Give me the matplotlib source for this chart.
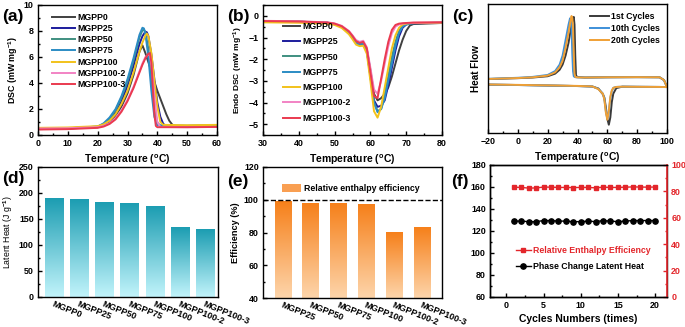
import matplotlib
matplotlib.use('Agg')
import matplotlib.pyplot as plt
import numpy as np
from matplotlib.ticker import AutoMinorLocator, MultipleLocator
from matplotlib.colors import LinearSegmentedColormap
from matplotlib.patches import Patch

plt.rcParams.update({
    'font.family': 'Liberation Sans',
    'font.weight': 'bold',
    'font.size': 7,
    'axes.labelweight': 'bold',
    'axes.linewidth': 1.0,
    'mathtext.fontset': 'custom',
    'mathtext.rm': 'Liberation Sans:bold',
    'mathtext.bf': 'Liberation Sans:bold',
    'mathtext.it': 'Liberation Sans:bold',
})

names = ['MGPP0', 'MGPP25', 'MGPP50', 'MGPP75', 'MGPP100', 'MGPP100-2', 'MGPP100-3']
colors = ['#404040', '#1c1c9c', '#3f8f80', '#2b8cc4', '#f2c21b', '#f283c4', '#ea3a4f']

# (a) crystallization DSC curves, (temperature, value)
a_T = {
    'MGPP0': [0, 10, 20, 22, 24, 26, 28, 30, 32, 33, 34, 35, 36, 37, 38, 39, 40, 41, 42, 43, 44, 45, 46, 50, 60],
    'MGPP25': [0, 10, 20, 22, 24, 26, 28, 30, 32, 33, 34, 35, 36, 36.5, 37, 38, 39, 40, 41, 42, 43, 50, 60],
    'MGPP50': [0, 10, 20, 22, 24, 26, 28, 30, 32, 33, 34, 35, 35.5, 36, 37, 38, 39, 40, 41, 50, 60],
    'MGPP75': [0, 10, 20, 22, 24, 26, 28, 30, 32, 33, 34, 35, 35.5, 36, 37, 38, 39, 40, 50, 60],
    'MGPP100': [0, 10, 20, 22, 24, 26, 28, 30, 32, 33, 34, 35, 36, 36.5, 37, 38, 39, 40, 41, 42, 50, 60],
    'MGPP100-2': [0, 10, 20, 22, 24, 26, 28, 30, 32, 33, 34, 35, 36, 37, 37.5, 38, 39, 40, 41, 50, 60],
    'MGPP100-3': [0, 10, 20, 22, 24, 26, 28, 30, 32, 33, 34, 35, 36, 37, 37.5, 38, 38.5, 39, 39.5, 40, 50, 60],
}
a_Y = {
    'MGPP0': [0.45, 0.5, 0.6, 0.75, 1.0, 1.5, 2.2, 3.2, 4.6, 5.5, 6.4, 6.9, 6.3, 5.6, 4.9, 4.1, 3.4, 2.8, 2.2, 1.6, 1.1, 0.8, 0.7, 0.7, 0.72],
    'MGPP25': [0.5, 0.52, 0.62, 0.78, 1.1, 1.7, 2.6, 3.8, 5.3, 6.2, 7.0, 7.6, 7.95, 7.9, 7.6, 6.2, 4.3, 2.5, 1.4, 0.85, 0.7, 0.7, 0.72],
    'MGPP50': [0.5, 0.52, 0.65, 0.85, 1.25, 1.9, 2.9, 4.1, 5.7, 6.6, 7.5, 8.05, 8.1, 7.9, 6.6, 4.2, 2.0, 0.95, 0.72, 0.7, 0.72],
    'MGPP75': [0.48, 0.5, 0.65, 0.9, 1.35, 2.0, 3.0, 4.3, 5.9, 6.8, 7.7, 8.25, 8.2, 7.8, 6.0, 3.4, 1.4, 0.75, 0.7, 0.72],
    'MGPP100': [0.55, 0.58, 0.68, 0.82, 1.1, 1.6, 2.4, 3.4, 4.8, 5.6, 6.4, 7.1, 7.65, 7.8, 7.6, 6.3, 4.2, 2.2, 1.0, 0.78, 0.75, 0.78],
    'MGPP100-2': [0.5, 0.52, 0.6, 0.7, 0.9, 1.3, 1.9, 2.7, 3.7, 4.3, 4.9, 5.5, 6.0, 6.2, 6.1, 5.4, 3.0, 1.0, 0.62, 0.6, 0.62],
    'MGPP100-3': [0.42, 0.45, 0.55, 0.65, 0.85, 1.2, 1.8, 2.6, 3.6, 4.2, 4.8, 5.4, 5.9, 6.25, 6.3, 5.6, 3.6, 1.6, 0.7, 0.6, 0.6, 0.62],
}

# (b) melting DSC curves
b_T = [30, 40, 48, 50, 52, 54, 55, 56, 57, 58, 59, 60, 61, 62, 63, 64, 65, 66, 67, 68, 69, 70, 71, 72, 80]
b_Y = {
    'MGPP0': [-0.25, -0.27, -0.32, -0.38, -0.5, -0.75, -0.95, -1.2, -1.3, -1.3, -1.55, -2.5, -3.6, -3.9, -3.8, -3.6, -3.3, -2.8, -2.2, -1.6, -1.1, -0.7, -0.45, -0.38, -0.33],
    'MGPP25': [-0.25, -0.27, -0.32, -0.38, -0.5, -0.78, -1.0, -1.25, -1.32, -1.3, -1.6, -2.7, -3.9, -4.2, -4.15, -3.9, -3.2, -2.4, -1.6, -0.95, -0.55, -0.4, -0.36, -0.34, -0.32],
    'MGPP50': [-0.25, -0.27, -0.32, -0.38, -0.5, -0.78, -1.0, -1.25, -1.32, -1.28, -1.6, -2.8, -4.0, -4.4, -4.3, -3.6, -2.8, -1.9, -1.2, -0.7, -0.45, -0.38, -0.35, -0.34, -0.32],
    'MGPP75': [-0.25, -0.27, -0.32, -0.38, -0.5, -0.78, -1.0, -1.25, -1.32, -1.28, -1.6, -2.8, -4.0, -4.45, -4.3, -3.8, -3.0, -2.2, -1.4, -0.8, -0.5, -0.4, -0.36, -0.34, -0.32],
    'MGPP100': [-0.3, -0.32, -0.36, -0.42, -0.56, -0.85, -1.08, -1.33, -1.4, -1.38, -1.75, -3.0, -4.4, -4.7, -4.2, -3.3, -2.4, -1.5, -0.9, -0.55, -0.4, -0.36, -0.34, -0.33, -0.32],
    'MGPP100-2': [-0.23, -0.25, -0.3, -0.35, -0.46, -0.7, -0.9, -1.12, -1.2, -1.15, -1.45, -2.4, -3.4, -3.6, -3.0, -2.2, -1.4, -0.8, -0.5, -0.4, -0.36, -0.34, -0.33, -0.32, -0.3],
    'MGPP100-3': [-0.24, -0.26, -0.31, -0.36, -0.48, -0.72, -0.93, -1.17, -1.25, -1.2, -1.5, -2.6, -3.7, -3.8, -2.9, -2.0, -1.2, -0.65, -0.42, -0.36, -0.34, -0.33, -0.32, -0.31, -0.3],
}

# (c) cycling heat flow loops (arbitrary units)
cycles = ['1st Cycles', '10th Cycles', '20th Cycles']
cyc_colors = ['#3a3a3a', '#3d8fd8', '#f0a035']
heat_T = [-20, 0, 20, 40, 50, 54, 56, 57, 58, 59, 60, 61, 62, 63, 64, 66, 70, 80, 95, 100]
heat_Y = [
    [37.5, 37.2, 36.8, 36.4, 36.0, 34.5, 31.5, 30.0, 27.5, 20, 11, 6.4, 12, 24, 30.5, 34.8, 35.9, 35.8, 35.7, 35.6],
    [37.5, 37.2, 36.8, 36.4, 36.1, 34.2, 31.8, 30.5, 26.5, 17, 10.8, 16, 27, 32.5, 35, 35.7, 35.9, 35.8, 35.7, 35.6],
    [37.6, 37.3, 36.9, 36.5, 36.1, 34.0, 31.5, 30.5, 26, 16, 10.3, 17, 28, 33, 35, 35.7, 35.9, 35.8, 35.7, 35.6],
]
cool_T = [100, 98, 95, 80, 60, 45, 40, 39, 38.5, 38, 37.5, 37, 36.5, 36, 35.5, 35, 34, 32, 30, 28, 25, 20, 10, 0, -20]
cool_Y = [
    [35.6, 41, 43.2, 43.3, 43.2, 43, 43.4, 44.5, 60, 84, 90, 89, 87, 84, 80, 77, 70, 60, 53, 49, 46, 44, 43, 42.5, 41.8],
    [35.6, 41, 43.2, 43.3, 43.2, 43, 43.1, 43.2, 43.3, 43.5, 44, 48, 62, 82, 88, 88.9, 84, 72, 60, 53, 48, 45, 43.5, 42.8, 42],
    [35.6, 41, 43.2, 43.3, 43.2, 43, 43.1, 43.3, 43.6, 46, 60, 82, 89, 90.7, 88, 85, 78, 66, 56, 51, 47, 44.5, 43.2, 42.6, 41.9],
]

# (d) latent heat
latent = [189, 187, 181, 179, 175, 133, 129]
# (e) relative enthalpy efficiency
eff_names = names[1:]
efficiency = [99, 98, 98, 97, 80, 83]
# (f) cycling stability
cyc_n = list(range(1, 21))
cyc_latent = [129, 129, 128.5, 128.5, 129.5, 129.5, 129, 129, 128.5, 128.5, 129, 128.5, 129.5, 129, 128.5, 129, 129.5, 129.5, 129.5, 129.5]
cyc_eff = [83.2, 83, 82.5, 82.6, 83.3, 83.2, 83, 83, 82.9, 83, 83, 82.7, 83.2, 83, 83, 83.2, 83.4, 83.3, 83.2, 83.3]

W, H = 685, 327
TICK = 6.4
fig = plt.figure(figsize=(6.85, 3.27), dpi=100)


def box(l, r, t, b):
    return [l / W, 1 - b / H, (r - l) / W, (b - t) / H]


def style(ax, xminor=2, yminor=2):
    ax.xaxis.set_minor_locator(AutoMinorLocator(xminor))
    ax.yaxis.set_minor_locator(AutoMinorLocator(yminor))
    ax.tick_params(which='both', direction='in', width=1.0, labelsize=TICK, pad=3)
    ax.tick_params(which='major', length=3)
    ax.tick_params(which='minor', length=1.5)


axa = fig.add_axes(box(38, 217, 5, 135))
axb = fig.add_axes(box(263, 442, 5, 135))
axc = fig.add_axes(box(488, 667, 4, 133))
axd = fig.add_axes(box(38, 218, 167, 297))
axe = fig.add_axes(box(263, 442, 167, 298))
axf = fig.add_axes(box(490, 667, 165, 297))

deg = r'Temperature ($^{\mathrm{o}}$C)'

# (a)
for n, c in zip(names, colors):
    axa.plot(a_T[n], a_Y[n], color=c, lw=1.4, label=n)
axa.set_xlim(0, 60)
axa.set_ylim(0, 10)
axa.xaxis.set_major_locator(MultipleLocator(10))
axa.yaxis.set_major_locator(MultipleLocator(2))
axa.set_xlabel(deg, fontsize=7.5, labelpad=3)
axa.set_ylabel(r'DSC (mW mg$^{-1}$)', fontsize=6.4, labelpad=3)
style(axa)
axa.legend(loc='upper left', bbox_to_anchor=(0.05, 0.98), frameon=False, fontsize=6.3,
           handlelength=2.6, handletextpad=0.3, labelspacing=0.25, borderaxespad=0.2)

# (b)
for n, c in zip(names, colors):
    axb.plot(b_T, b_Y[n], color=c, lw=1.4, label=n)
axb.set_xlim(30, 80)
axb.set_ylim(-5.5, 0.5)
axb.xaxis.set_major_locator(MultipleLocator(10))
axb.yaxis.set_major_locator(MultipleLocator(1))
axb.set_xlabel(deg, fontsize=7.5, labelpad=3)
axb.set_ylabel(r'Endo DSC (mW mg$^{-1}$)', fontsize=6.0, labelpad=3)
style(axb)
axb.legend(loc='upper left', bbox_to_anchor=(0.08, 0.91), frameon=False, fontsize=6.3,
           handlelength=2.0, handletextpad=0.3, labelspacing=0.72, borderaxespad=0.2)

# (c)
for lab, c, hy, cy in zip(cycles, cyc_colors, heat_Y, cool_Y):
    axc.plot(heat_T + cool_T + heat_T[:1], hy + cy + hy[:1], color=c, lw=1.4, label=lab)
axc.set_xlim(-20, 100)
axc.set_ylim(0, 100)
axc.xaxis.set_major_locator(MultipleLocator(20))
axc.set_yticks([])
axc.set_xlabel(deg, fontsize=7.5, labelpad=3)
axc.set_ylabel('Heat Flow', fontsize=7.2, labelpad=5)
style(axc)
axc.legend(loc='upper right', bbox_to_anchor=(0.99, 0.98), frameon=False, fontsize=6.3,
           handlelength=2.2, handletextpad=0.2, labelspacing=0.35, borderaxespad=0.2)


def gradient_bars(ax, x, vals, width, c_top, c_bottom, ymin):
    cmap = LinearSegmentedColormap.from_list('g', [c_bottom, c_top])
    grad = np.linspace(0, 1, 256).reshape(-1, 1)
    bars = ax.bar(x, vals, width=width, color='none', edgecolor='none')
    for b in bars:
        x0, w = b.get_x(), b.get_width()
        y0 = max(b.get_y(), ymin)
        ax.imshow(grad, extent=[x0, x0 + w, y0, b.get_y() + b.get_height()],
                  origin='lower', aspect='auto', cmap=cmap, zorder=2)
    return bars


# (d)
xd = np.arange(len(names))
gradient_bars(axd, xd, latent, 0.72, '#1c9db2', '#c2f4fb', 0)
axd.set_xlim(-0.62, 6.5)
axd.set_ylim(0, 250)
axd.yaxis.set_major_locator(MultipleLocator(50))
axd.set_xticks(xd)
axd.set_xticklabels(names, rotation=-22, ha='left', rotation_mode='anchor', fontsize=5.8)
axd.set_ylabel(r'Latent Heat (J g$^{-1}$)', fontsize=6.3, fontweight='normal', labelpad=3)
style(axd)
axd.tick_params(axis='x', which='both', length=0, pad=1.5)
axd.xaxis.set_minor_locator(MultipleLocator(100))

# (e)
xe = np.arange(len(eff_names))
gradient_bars(axe, xe, efficiency, 0.6, '#f6801a', '#fdd5ab', 40)
axe.axhline(100, color='black', ls='--', lw=1.0, zorder=3)
axe.set_xlim(-0.72, 5.72)
axe.set_ylim(40, 120)
axe.yaxis.set_major_locator(MultipleLocator(20))
axe.set_xticks(xe)
axe.set_xticklabels(eff_names, rotation=-22, ha='left', rotation_mode='anchor', fontsize=5.8)
axe.set_ylabel('Efficiency (%)', fontsize=6.6, labelpad=3)
style(axe)
axe.tick_params(axis='x', which='both', length=0, pad=1.5)
axe.legend(handles=[Patch(facecolor='#f99f52', edgecolor='none', label='Relative enthalpy efficiency')],
           loc='upper left', bbox_to_anchor=(0.06, 0.93), frameon=False, fontsize=6.3,
           handlelength=2.2, handleheight=1.0, handletextpad=0.4)

# (f)
red = '#e3262b'
axf2 = axf.twinx()
l_black, = axf.plot(cyc_n, cyc_latent, color='black', marker='o', ms=3.8, lw=1.0,
                    label='Phase Change Latent Heat')
l_red, = axf2.plot(cyc_n, cyc_eff, color=red, marker='s', ms=3.3, lw=1.0,
                   label='Relative Enthalpy Efficiency')
axf.set_xlim(-2.2, 21.6)
axf.set_ylim(60, 180)
axf2.set_ylim(0, 100)
axf.xaxis.set_major_locator(MultipleLocator(5))
axf.yaxis.set_major_locator(MultipleLocator(20))
axf2.yaxis.set_major_locator(MultipleLocator(20))
axf.set_xlabel('Cycles Numbers (times)', fontsize=7.5, labelpad=3)
style(axf)
axf2.yaxis.set_minor_locator(AutoMinorLocator(2))
axf2.tick_params(which='both', direction='in', width=1.0, labelsize=TICK, pad=3, colors=red)
axf2.tick_params(which='major', length=3)
axf2.tick_params(which='minor', length=1.5)
axf2.spines['right'].set_color(red)
axf2.spines['right'].set_linewidth(1.2)
leg = axf.legend(handles=[l_red, l_black], loc='center left', bbox_to_anchor=(0.1, 0.29),
                 frameon=False, fontsize=6.3, handlelength=1.8, handletextpad=0.2, labelspacing=0.8)
leg.get_texts()[0].set_color(red)

# panel letters
for lab, x, y in [('(a)', 2, 17), ('(b)', 227, 17), ('(c)', 452, 17),
                  ('(d)', 2, 179), ('(e)', 227, 181), ('(f)', 451, 181)]:
    fig.text(x / W, 1 - y / H, lab, fontsize=12.5, fontweight='bold', va='center', ha='left')

fig.savefig('out.png', dpi=100)
